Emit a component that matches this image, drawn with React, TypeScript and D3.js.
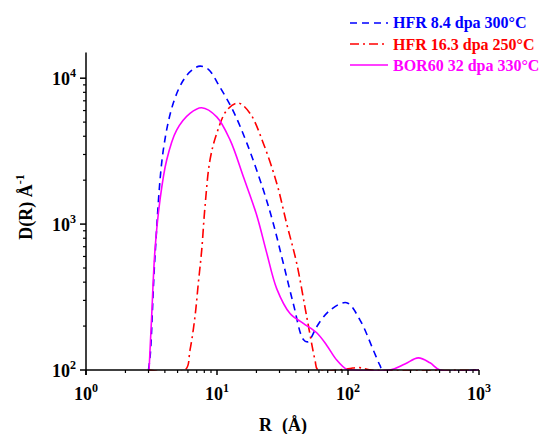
import React from "react";
import * as d3 from "d3";

const W = 544;
const H = 434;

// Data (R in Å, D(R) in Å^-1)
const seriesNames = ["HFR 8.4 dpa 300°C", "HFR 16.3 dpa 250°C", "BOR60 32 dpa 330°C"];
const seriesColors = ["#0000FF", "#FF0000", "#FF00FF"];
const seriesDash = ["7,5", "9,4,2,4", ""];

const hfr84: [number, number][] = [
  [3.0, 100], [3.1, 130], [3.36, 594], [3.89, 3210], [4.64, 6760], [5.53, 9680],
  [6.4, 11300], [7.42, 12100], [8.6, 11500], [10.5, 8710], [13.2, 6040], [16.9, 3590],
  [22.6, 1710], [26.9, 1010], [32.1, 537], [38.2, 286], [45.6, 162], [49.5, 156],
  [53, 170], [57.7, 198], [72.9, 257], [97.7, 289], [123.5, 220], [156, 137],
  [175, 108], [185, 100], [1000, 100],
];
const hfr163: [number, number][] = [
  [3.0, 100], [5.7, 100], [6.22, 137], [6.79, 232], [7.2, 393], [7.64, 661],
  [8.1, 1320], [8.84, 2750], [9.95, 4180], [11.9, 6040], [14.5, 6760], [17.9, 5730],
  [22.6, 3570], [28.6, 1900], [34, 1010], [40.6, 538], [48.4, 232], [56, 117],
  [59, 100], [100, 102], [120, 104], [150, 100], [1000, 100],
];
const bor60: [number, number][] = [
  [3.03, 100], [3.17, 232], [3.36, 661], [3.67, 1460], [4.13, 2750], [4.92, 4400],
  [6.22, 5730], [7.64, 6270], [9.95, 5430], [12.6, 3760], [15.9, 2110], [20.1, 1150],
  [23.9, 640], [28.6, 360], [36.1, 244], [45.6, 209], [57.7, 180], [68.7, 148],
  [82, 117], [97.7, 101], [110, 100], [209, 100], [272, 110], [344, 121],
  [423, 112], [504, 100], [1000, 100],
];
const allSeries = [hfr84, hfr163, bor60];

const xDomain = [1, 1000];
const yDomain = [100, 15000];
const xMajor = [1, 10, 100, 1000];
const xMajorExp = ["0", "1", "2", "3"];
const yMajor = [100, 1000, 10000];
const yMajorExp = ["2", "3", "4"];

const FONT = "'Liberation Serif', 'Times New Roman', serif";

export default function App() {
  const x = d3.scaleLog().domain(xDomain).range([86, 479]);
  const y = d3.scaleLog().domain(yDomain).range([370, 52.5]);

  const line = d3
    .line<[number, number]>()
    .x((d) => x(d[0]))
    .y((d) => y(Math.max(d[1], yDomain[0])))
    .curve(d3.curveCatmullRom.alpha(0.5));

  const xMinor: number[] = [];
  for (let dec = 1; dec < 1000; dec *= 10)
    for (let k = 2; k <= 9; k++) xMinor.push(dec * k);
  const yMinor: number[] = [];
  for (let dec = 100; dec < 15000; dec *= 10)
    for (let k = 2; k <= 9; k++) if (dec * k <= 15000) yMinor.push(dec * k);

  const x0 = x(xDomain[0]);
  const y0 = y(yDomain[0]);

  return (
    <svg
      width={W}
      height={H}
      style={{ position: "absolute", left: 0, top: 0, background: "#fff", display: "block" }}
      fontFamily={FONT}
    >
      <defs>
        <clipPath id="plotClip">
          <rect x={x0} y={0} width={x(xDomain[1]) - x0 + 2} height={y0 + 0.8} />
        </clipPath>
      </defs>
      <rect width={W} height={H} fill="#fff" />
      {/* curves */}
      <g clipPath="url(#plotClip)">
        {allSeries.map((s, i) => (
          <path
            key={i}
            d={line(s) || ""}
            fill="none"
            stroke={seriesColors[i]}
            strokeWidth={1.6}
            strokeDasharray={seriesDash[i] || undefined}
          />
        ))}
      </g>
      {/* axes */}
      <g stroke="#000" strokeWidth={1.5} fill="none">
        <line x1={x0} x2={x(xDomain[1])} y1={y0} y2={y0} />
        <line x1={x0} x2={x0} y1={y0 + 5} y2={y(yDomain[1])} />
        {xMajor.map((v) => (
          <line key={"xm" + v} x1={x(v)} x2={x(v)} y1={y0} y2={y0 + 5} />
        ))}
        {xMinor.map((v) => (
          <line key={"xn" + v} x1={x(v)} x2={x(v)} y1={y0} y2={y0 + 3} strokeWidth={1.2} />
        ))}
        {yMajor.map((v) => (
          <line key={"ym" + v} x1={x0 - 6} x2={x0} y1={y(v)} y2={y(v)} />
        ))}
        {yMinor.map((v) => (
          <line key={"yn" + v} x1={x0 - 3} x2={x0} y1={y(v)} y2={y(v)} strokeWidth={1.2} />
        ))}
      </g>
      {/* x tick labels */}
      {xMajor.map((v, i) => (
        <text key={"xl" + v} x={x(v)} y={y0 + 30} textAnchor="middle" fontSize={18} fontWeight="bold">
          10<tspan fontSize={12} dy={-8}>{xMajorExp[i]}</tspan>
        </text>
      ))}
      {/* y tick labels */}
      {yMajor.map((v, i) => (
        <text key={"yl" + v} x={x0 - 10} y={y(v) + 7} textAnchor="end" fontSize={18} fontWeight="bold">
          10<tspan fontSize={12} dy={-8}>{yMajorExp[i]}</tspan>
        </text>
      ))}
      {/* axis titles */}
      <text x={283} y={431} textAnchor="middle" fontSize={18} fontWeight="bold">
        R<tspan dx={10}>(Å)</tspan>
      </text>
      <text
        transform={`translate(32, 207) rotate(-90)`}
        textAnchor="middle"
        fontSize={18}
        fontWeight="bold"
      >
        D(R) Å<tspan fontSize={12} dy={-8}>-1</tspan>
      </text>
      {/* legend */}
      {seriesNames.map((name, i) => (
        <g key={name}>
          <line
            x1={350}
            x2={388}
            y1={23 + i * 21}
            y2={23 + i * 21}
            stroke={seriesColors[i]}
            strokeWidth={1.6}
            strokeDasharray={seriesDash[i] || undefined}
          />
          <text x={393} y={28 + i * 21.5} fontSize={16} fontWeight="bold" fill={seriesColors[i]}>
            {name}
          </text>
        </g>
      ))}
    </svg>
  );
}
